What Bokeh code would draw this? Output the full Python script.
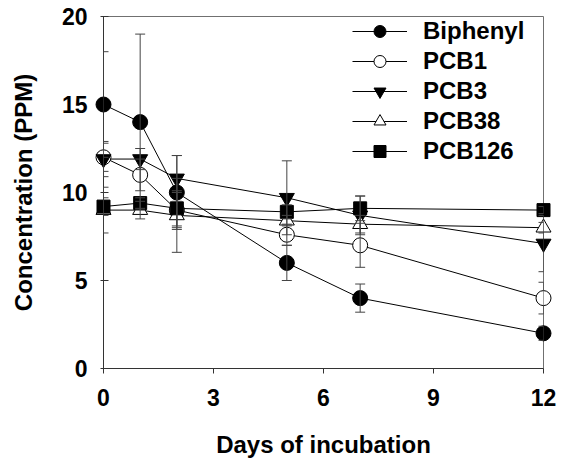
from bokeh.plotting import figure
from bokeh.models import ColumnDataSource, Whisker, TeeHead, Legend, LegendItem, FixedTicker
from bokeh.embed import file_html
from bokeh.resources import INLINE

days = [0, 1, 2, 5, 7, 12]

biphenyl = [15.0, 14.0, 10.0, 6.0, 4.0, 2.0]
biphenyl_err = [3.0, 5.0, 2.1, 1.0, 0.8, 0.4]

pcb1 = [12.0, 11.0, 9.0, 7.6, 7.0, 4.0]
pcb1_err = [0.8, 0.9, 1.0, 0.6, 1.25, 0.9]

pcb3 = [11.9, 11.9, 10.8, 9.7, 8.7, 7.1]
pcb3_err = [1.0, 0.6, 1.3, 2.1, 1.1, 1.6]

pcb38 = [9.0, 9.0, 8.7, 8.4, 8.2, 8.0]
pcb38_err = [1.3, 0.5, 2.1, 0.3, 0.5, 0.3]

pcb126 = [9.2, 9.4, 9.1, 8.9, 9.1, 9.0]
pcb126_err = [0.5, 0.3, 1.0, 0.4, 0.7, 0.2]

x_ticks = [0, 3, 6, 9, 12]
y_ticks = [0, 5, 10, 15, 20]

FONT = "Liberation Sans"

p = figure(width=567, height=462, output_backend="svg", toolbar_location=None,
           x_range=(0, 12), y_range=(0, 20),
           min_border_left=103, min_border_right=24, min_border_top=16, min_border_bottom=94)
p.background_fill_color = "white"
p.border_fill_color = "white"
p.outline_line_color = "#707070"
p.outline_line_width = 1
p.xgrid.visible = False
p.ygrid.visible = False

for ax in (p.xaxis[0], p.yaxis[0]):
    ax.axis_line_color = "#333333"
    ax.major_tick_line_color = "#333333"
    ax.minor_tick_line_color = None
    ax.major_label_text_font = FONT
    ax.major_label_text_font_style = "bold"
    ax.major_label_text_font_size = "23px"
    ax.major_label_text_color = "black"
    ax.axis_label_text_font = FONT
    ax.axis_label_text_font_style = "bold"
    ax.axis_label_text_font_size = "24px"
    ax.axis_label_text_color = "black"

p.xaxis[0].ticker = FixedTicker(ticks=x_ticks)
p.yaxis[0].ticker = FixedTicker(ticks=y_ticks)
p.xaxis[0].major_tick_in = 0
p.xaxis[0].major_tick_out = 5
p.yaxis[0].major_tick_in = 5
p.yaxis[0].major_tick_out = 3
p.xaxis[0].major_label_standoff = 15
p.yaxis[0].major_label_standoff = 13
p.xaxis[0].axis_label = "Days of incubation"
p.yaxis[0].axis_label = "Concentration (PPM)"
p.xaxis[0].axis_label_standoff = 22
p.yaxis[0].axis_label_standoff = 22

series = [
    ("PCB1", pcb1, pcb1_err, "circle", 15, "white"),
    ("PCB3", pcb3, pcb3_err, "inverted_triangle", 15, "black"),
    ("PCB38", pcb38, pcb38_err, "triangle", 15, "white"),
    ("PCB126", pcb126, pcb126_err, "square", 13, "black"),
    ("Biphenyl", biphenyl, biphenyl_err, "circle", 15, "black"),
]

sources = {}
for name, vals, errs, marker, size, fill in series:
    src = ColumnDataSource(dict(x=days, y=vals,
                                lo=[v - e for v, e in zip(vals, errs)],
                                hi=[v + e for v, e in zip(vals, errs)]))
    sources[name] = src
    w = Whisker(source=src, base="x", lower="lo", upper="hi", dimension="height",
                line_color="#444444", line_width=1, level="overlay",
                upper_head=TeeHead(size=10, line_color="#444444", line_width=1),
                lower_head=TeeHead(size=10, line_color="#444444", line_width=1))
    p.add_layout(w)

line_r = {}
for name, vals, errs, marker, size, fill in series:
    r = p.line("x", "y", source=sources[name], line_color="black", line_width=1, level="overlay")
    line_r[name] = r

mark_r = {}
for name, vals, errs, marker, size, fill in series:
    r = p.scatter("x", "y", source=sources[name], marker=marker, size=size,
                  fill_color=fill, line_color="black", line_width=1, level="overlay")
    mark_r[name] = r

order = ["Biphenyl", "PCB1", "PCB3", "PCB38", "PCB126"]
items = [LegendItem(label=n, renderers=[line_r[n], mark_r[n]]) for n in order]
legend = Legend(items=items, location=(249, 202), orientation="vertical",
                glyph_width=55, glyph_height=30, label_height=27, spacing=-3,
                padding=0, margin=0, label_standoff=16,
                label_text_font=FONT, label_text_font_style="bold",
                label_text_font_size="24px", label_text_color="black",
                border_line_color=None, background_fill_alpha=0)
p.add_layout(legend, "center")

open("out.html", "w").write(file_html(p, INLINE))
